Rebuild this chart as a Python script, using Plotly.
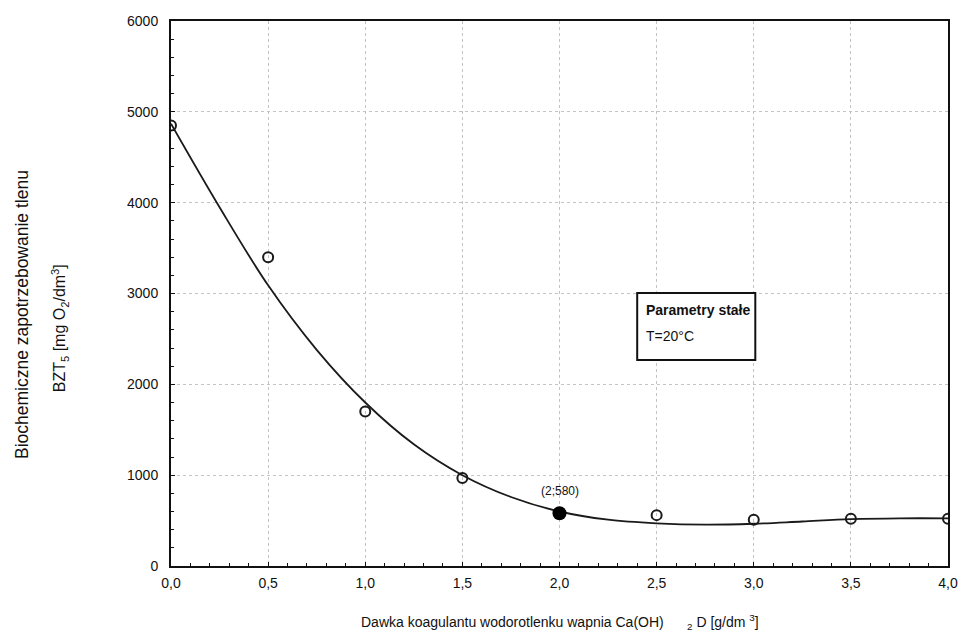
import plotly.graph_objects as go

# Measured BOD5 values vs. Ca(OH)2 dose
dose = [0.0, 0.5, 1.0, 1.5, 2.5, 3.0, 3.5, 4.0]
bzt = [4850, 3400, 1700, 970, 560, 510, 520, 520]

# Highlighted optimum point
opt_dose = [2.0]
opt_bzt = [580]
opt_label = "(2;580)"

# Fitted trend curve (sampled)
fit_dose = [0.0, 0.25, 0.5, 0.75, 1.0, 1.25, 1.5, 1.75, 2.0, 2.25, 2.5,
            2.75, 3.0, 3.25, 3.5, 3.75, 4.0]
fit_bzt = [4870, 3950, 3090, 2380, 1800, 1340, 1000, 760, 600, 510, 470,
           455, 465, 490, 515, 525, 525]

x_ticks = [0.0, 0.5, 1.0, 1.5, 2.0, 2.5, 3.0, 3.5, 4.0]
x_ticktext = ["0,0", "0,5", "1,0", "1,5", "2,0", "2,5", "3,0", "3,5", "4,0"]
y_ticks = [0, 1000, 2000, 3000, 4000, 5000, 6000]

FONT = "Liberation Sans, Arial, sans-serif"
INK = "#111111"

fig = go.Figure()

fig.add_trace(go.Scatter(
    x=fit_dose, y=fit_bzt, mode="lines",
    line=dict(color="#1a1a1a", width=1.8, shape="spline", smoothing=1.0),
    hoverinfo="skip", showlegend=False,
))

fig.add_trace(go.Scatter(
    x=dose, y=bzt, mode="markers",
    marker=dict(symbol="circle-open", size=10, color="#1a1a1a",
                line=dict(width=2, color="#1a1a1a")),
    showlegend=False,
))

fig.add_trace(go.Scatter(
    x=opt_dose, y=opt_bzt, mode="markers",
    marker=dict(symbol="circle", size=14, color="#000000"),
    showlegend=False,
))

fig.add_annotation(
    x=opt_dose[0], y=opt_bzt[0], text=opt_label, showarrow=False,
    yshift=22, font=dict(family=FONT, size=12, color=INK),
)

# Constant-parameter info box
fig.add_shape(
    type="rect", xref="paper", yref="paper",
    x0=0.600, x1=0.752, y0=0.378, y1=0.501,
    line=dict(color=INK, width=2), fillcolor="white", layer="above",
)
fig.add_annotation(
    xref="paper", yref="paper", x=0.609, y=0.470, xanchor="left", yanchor="middle",
    text="<b>Parametry stałe</b>", showarrow=False,
    font=dict(family=FONT, size=14, color=INK),
)
fig.add_annotation(
    xref="paper", yref="paper", x=0.609, y=0.422, xanchor="left", yanchor="middle",
    text="T=20°C", showarrow=False,
    font=dict(family=FONT, size=14, color=INK),
)

# Axis titles
fig.add_annotation(
    xref="paper", yref="paper", x=0.5, y=-0.103, xanchor="center", yanchor="middle",
    text="Dawka koagulantu wodorotlenku wapnia Ca(OH)      <sub>2</sub> D [g/dm <sup>3</sup>]",
    showarrow=False, font=dict(family=FONT, size=14, color=INK),
)
fig.add_annotation(
    xref="paper", yref="paper", x=-0.192, y=0.462, xanchor="center", yanchor="middle",
    text="Biochemiczne zapotrzebowanie tlenu", textangle=-90, showarrow=False,
    font=dict(family=FONT, size=17.5, color=INK),
)
fig.add_annotation(
    xref="paper", yref="paper", x=-0.1436, y=0.437, xanchor="center", yanchor="middle",
    text="BZT<sub>5</sub> [mg O<sub>2</sub>/dm<sup>3</sup>]", textangle=-90,
    showarrow=False, font=dict(family=FONT, size=16, color=INK),
)

axis_common = dict(
    showline=True, linecolor=INK, linewidth=2, mirror=True,
    showgrid=True, gridcolor="#c4c4c4", griddash="dot", gridwidth=1,
    zeroline=False, ticks="inside", ticklen=4, tickcolor=INK,
    tickfont=dict(family=FONT, size=14, color=INK),
)

fig.update_xaxes(
    range=[0, 4], tickvals=x_ticks, ticktext=x_ticktext,
    minor=dict(dtick=0.1, ticks="inside", ticklen=3, tickcolor=INK, showgrid=False),
    ticklabelstandoff=3,
    **axis_common,
)
fig.update_yaxes(
    range=[0, 6000], tickvals=y_ticks,
    minor=dict(dtick=200, ticks="inside", ticklen=3, tickcolor=INK, showgrid=False),
    ticklabelstandoff=8,
    **axis_common,
)

fig.update_layout(
    width=970, height=636,
    margin=dict(l=171, r=12, t=21, b=70),
    paper_bgcolor="white", plot_bgcolor="white",
    font=dict(family=FONT),
)

fig.write_html("out.html")
